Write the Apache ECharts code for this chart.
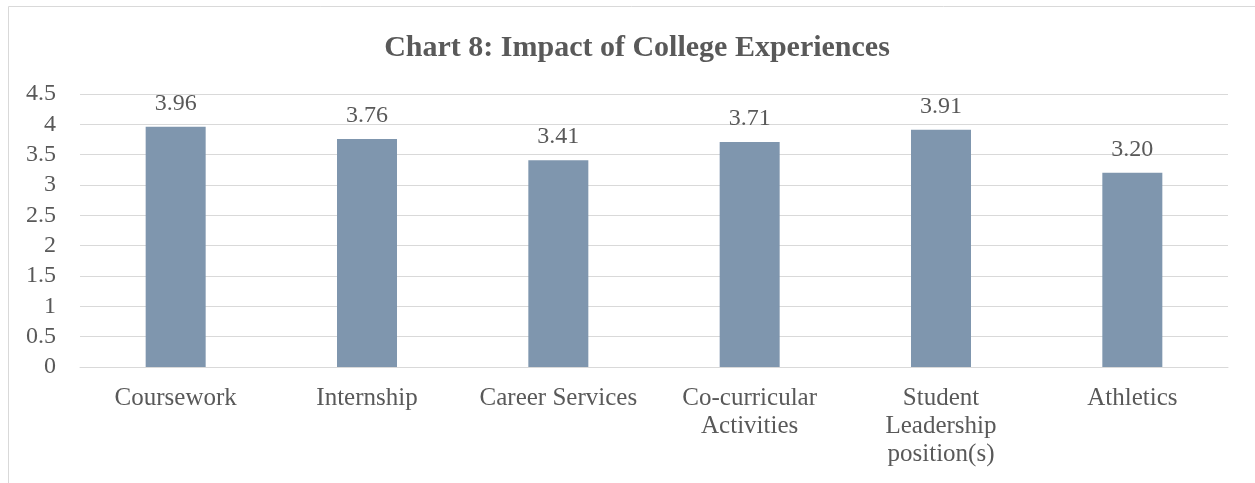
<!DOCTYPE html>
<html>
<head>
<meta charset="utf-8">
<style>
  html, body { margin: 0; padding: 0; background: #ffffff; }
  #chart { width: 1255px; height: 483px; }
</style>
<script src="https://cdn.jsdelivr.net/npm/echarts@6/dist/echarts.min.js"></script>
</head>
<body>
<div id="chart"></div>
<script>
// Mean impact rating for each college experience
const categories = [
  'Coursework',
  'Internship',
  'Career Services',
  'Co-curricular\nActivities',
  'Student\nLeadership\nposition(s)',
  'Athletics'
];
const impactScores = [3.96, 3.76, 3.41, 3.71, 3.91, 3.20];
const yTicks = { min: 0, max: 4.5, interval: 0.5 };

const FONT = '"Liberation Serif", "DejaVu Serif", serif';
const TEXT = '#595959';
const GRID = '#d9d9d9';

const chart = echarts.init(document.getElementById('chart'), null, { renderer: 'canvas' });

chart.setOption({
  animation: false,
  backgroundColor: '#ffffff',
  title: {
    text: 'Chart 8: Impact of College Experiences',
    left: 632,
    top: 28,
    textAlign: 'center',
    textStyle: { fontFamily: FONT, fontSize: 30, fontWeight: 'bold', color: TEXT }
  },
  graphic: [
    {
      type: 'polyline',
      silent: true,
      shape: { points: [[8.5, 483], [8.5, 6.5], [1255, 6.5]] },
      style: { stroke: GRID, lineWidth: 1, fill: null }
    }
  ],
  grid: { left: 80, right: 27, top: 94, bottom: 116, containLabel: false },
  xAxis: {
    type: 'category',
    data: categories,
    axisLine: { show: true, lineStyle: { color: GRID, width: 1 } },
    axisTick: { show: false },
    axisLabel: {
      interval: 0,
      margin: 17,
      fontFamily: FONT,
      fontSize: 25,
      lineHeight: 28,
      color: TEXT,
      align: 'center'
    }
  },
  yAxis: {
    type: 'value',
    min: yTicks.min,
    max: yTicks.max,
    interval: yTicks.interval,
    axisLine: { show: false },
    axisTick: { show: false },
    splitLine: { lineStyle: { color: GRID, width: 1 } },
    axisLabel: {
      margin: 24,
      fontFamily: FONT,
      fontSize: 24,
      color: TEXT
    }
  },
  series: [
    {
      type: 'bar',
      data: impactScores,
      barWidth: 60,
      itemStyle: { color: '#7f96ae' },
      label: {
        show: true,
        position: 'top',
        distance: 11,
        fontFamily: FONT,
        fontSize: 24,
        color: TEXT,
        formatter: p => p.value.toFixed(2)
      }
    }
  ]
});
</script>
</body>
</html>
